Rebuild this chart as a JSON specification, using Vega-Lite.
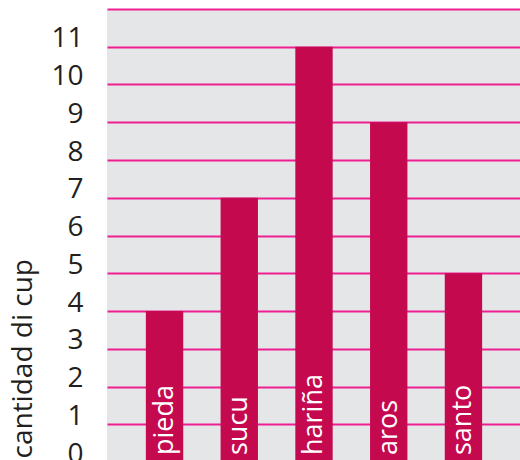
{
  "$schema": "https://vega.github.io/schema/vega-lite/v6.json",
  "width": 414,
  "height": 453,
  "autosize": {"type": "none"},
  "padding": {"left": 107, "top": 9, "right": 0, "bottom": 0},
  "background": "white",
  "config": {
    "view": {"fill": "#e5e6e8", "stroke": null},
    "axisY": {
      "ticks": false,
      "domain": false,
      "grid": true,
      "gridColor": "#ee1f91",
      "gridWidth": 2,
      "gridOpacity": 1,
      "labelFont": "Open Sans",
      "labelFontSize": 28,
      "labelColor": "#231f20",
      "labelPadding": 24,
      "labelBaseline": "alphabetic",
      "labelFlush": false,
      "labelOverlap": false,
      "titleFont": "Open Sans",
      "titleFontSize": 28,
      "titleFontWeight": "normal",
      "titleColor": "#231f20",
      "titleAngle": 270,
      "titleAlign": "left",
      "titleBaseline": "bottom",
      "titleX": -70,
      "titleY": 449
    }
  },
  "data": {
    "values": [
      {"name": "pieda", "value": 4},
      {"name": "sucu", "value": 7},
      {"name": "hariña", "value": 11},
      {"name": "aros", "value": 9},
      {"name": "santo", "value": 5}
    ]
  },
  "layer": [
    {
      "mark": {"type": "bar", "color": "#c4094f"},
      "encoding": {
        "x": {"field": "name", "type": "nominal", "sort": null, "scale": {"paddingInner": 0.5, "paddingOuter": 0.52}, "axis": null},
        "y": {
          "field": "value",
          "type": "quantitative",
          "scale": {"domain": [0, 12], "nice": false},
          "axis": {
            "values": [0, 1, 2, 3, 4, 5, 6, 7, 8, 9, 10, 11, 12],
            "labelExpr": "datum.value == 12 ? '' : datum.label",
            "title": "cantidad di cup"
          }
        }
      }
    },
    {
      "mark": {"type": "text", "angle": 270, "align": "left", "baseline": "middle", "dx": 7, "color": "white", "fontSize": 27, "font": "Open Sans"},
      "encoding": {
        "x": {"field": "name", "type": "nominal", "sort": null},
        "y": {
          "datum": 0,
          "type": "quantitative",
          "axis": {
            "values": [0, 1, 2, 3, 4, 5, 6, 7, 8, 9, 10, 11, 12],
            "labelExpr": "datum.value == 12 ? '' : datum.label",
            "title": "cantidad di cup"
          }
        },
        "text": {"field": "name"}
      }
    }
  ]
}
